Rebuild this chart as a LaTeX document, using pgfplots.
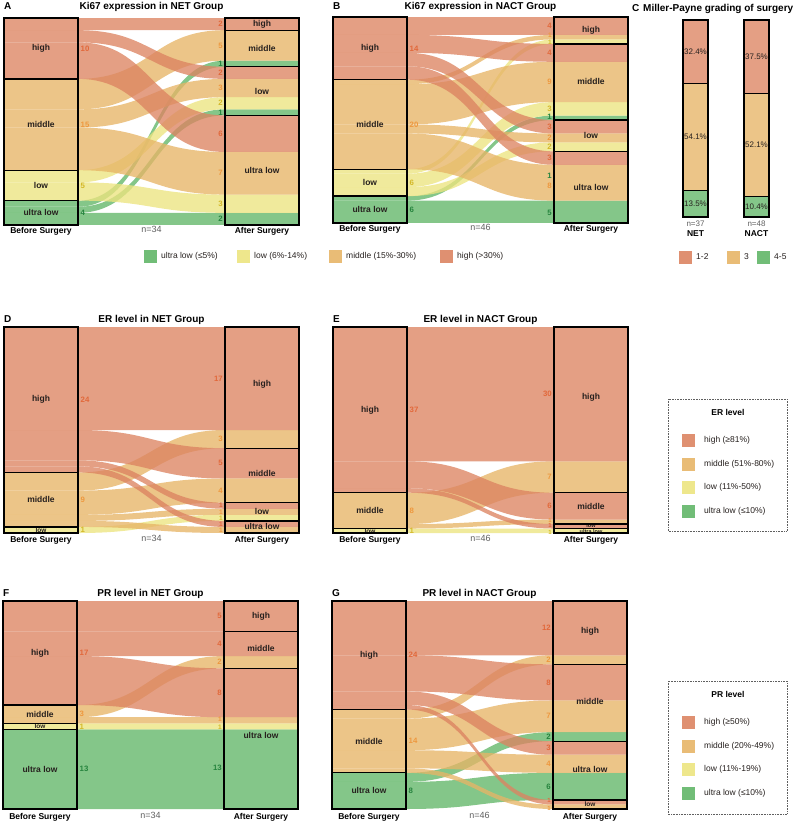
\documentclass[border=0pt]{standalone}
\usepackage{pgfplots}
\pgfplotsset{compat=1.18}
\usepackage{fontspec}
\setmainfont{Liberation Sans}

% stratum colours (high, middle, low, ultra low)
\definecolor{cHi}{RGB}{220,132,98}
\definecolor{cMi}{RGB}{231,181,103}
\definecolor{cLo}{RGB}{236,228,128}
\definecolor{cUl}{RGB}{98,182,104}
% count label colours
\definecolor{tHi}{RGB}{226,104,58}
\definecolor{tMi}{RGB}{238,152,62}
\definecolor{tLo}{RGB}{212,184,40}
\definecolor{tUl}{RGB}{38,132,62}
\definecolor{txt}{RGB}{38,32,30}
\definecolor{gry}{RGB}{95,95,95}

\newcommand{\ttlf}{\fontsize{10}{12}\selectfont\bfseries}
\newcommand{\blf}{\fontsize{8.5}{10}\selectfont\bfseries}
\newcommand{\sblf}{\fontsize{6.5}{7}\selectfont\bfseries}
\newcommand{\tblf}{\fontsize{5.5}{6}\selectfont\bfseries}
\newcommand{\numf}{\fontsize{7.8}{9}\selectfont\bfseries}
\newcommand{\snumf}{\fontsize{6}{7}\selectfont\bfseries}
\newcommand{\mnumf}{\fontsize{6.5}{7}\selectfont\bfseries}
\newcommand{\ftf}{\fontsize{8.5}{10}\selectfont\bfseries}
\newcommand{\nf}{\fontsize{9}{10}\selectfont}
\newcommand{\lgf}{\fontsize{8.5}{10}\selectfont}
\newcommand{\pcf}{\fontsize{8}{9}\selectfont}

% column geometry (axis units)
\newcommand{\xL}{0.2508}
\newcommand{\xR}{0.7492}
\newcommand{\cL}{0.1254}
\newcommand{\cR}{0.8746}

% alluvium: left band [#1,#2], right band [#3,#4], colour #5
\newcommand{\flow}[5]{\fill[#5, fill opacity=0.78] (axis cs:0,#1) -- (axis cs:\xL,#1) .. controls (axis cs:0.5,#1) and (axis cs:0.5,#3) .. (axis cs:\xR,#3) -- (axis cs:1,#3) -- (axis cs:1,#4) -- (axis cs:\xR,#4) .. controls (axis cs:0.5,#4) and (axis cs:0.5,#2) .. (axis cs:\xL,#2) -- (axis cs:0,#2) -- cycle;}
% counts beside the columns
\newcommand{\numL}[3]{\node[anchor=west, text=#3, font=\numf, inner sep=0pt, xshift=2.5pt] at (axis cs:\xL,#1) {#2};}
\newcommand{\numR}[3]{\node[anchor=east, text=#3, font=\numf, inner sep=0pt, xshift=-2pt] at (axis cs:\xR,#1) {#2};}
\newcommand{\mnumR}[3]{\node[anchor=east, text=#3, font=\mnumf, inner sep=0pt, xshift=-2pt] at (axis cs:\xR,#1) {#2};}
\newcommand{\snumR}[3]{\node[anchor=east, text=#3, font=\snumf, inner sep=0pt, xshift=-2pt] at (axis cs:\xR,#1) {#2};}
% stratum names
\newcommand{\blab}[3]{\node[font=\blf, text=txt, inner sep=0pt] at (axis cs:#1,#2) {#3};}
\newcommand{\sblab}[3]{\node[font=\sblf, text=txt, inner sep=0pt] at (axis cs:#1,#2) {#3};}
\newcommand{\tblab}[3]{\node[font=\tblf, text=txt, inner sep=0pt] at (axis cs:#1,#2) {#3};}
% panel letter and title
\newcommand{\ptitle}[3]{%
  \node[anchor=base west, font=\ttlf, inner sep=0pt, yshift=#3] at (axis cs:0,0) {#1};
  \node[anchor=base, font=\ttlf, inner sep=0pt, yshift=#3] at (axis cs:0.5,0) {#2};}
% column captions and sample size
\newcommand{\pfoot}[3]{%
  \node[anchor=base, font=\ftf, inner sep=0pt, yshift=#3] at (axis cs:\cL,#1) {Before Surgery};
  \node[anchor=base, font=\ftf, inner sep=0pt, yshift=#3] at (axis cs:\cR,#1) {After Surgery};
  \node[anchor=base, font=\nf, text=gry, inner sep=0pt, yshift=#3+1pt] at (axis cs:0.5,#1) {#2};}
% legend entry: x, top y, colour, text, text offset
\newcommand{\lsq}[5]{%
  \fill[#3, fill opacity=0.9] (#1pt,-#2pt) rectangle ++(13pt,-13pt);
  \node[anchor=west, font=\lgf, text=txt, inner sep=0pt] at (#1pt+#5pt,-#2pt-6.5pt) {#4};}

\pgfplotsset{
  sankey/.style={anchor=north west, scale only axis, width=295pt, xmin=0, xmax=1,
    ymin=0, y dir=reverse, hide axis, clip=false, ybar stacked, bar width=0.2508},
  strat/.style={draw=black, fill=none, line width=1.3pt},
  pA/.style={sankey, at={(4pt,-18pt)}, height=207pt, ymax=34},
  pB/.style={sankey, at={(333pt,-17pt)}, height=206pt, ymax=46},
  pD/.style={sankey, at={(4pt,-327pt)}, height=206pt, ymax=34},
  pE/.style={sankey, at={(333pt,-327pt)}, height=206pt, ymax=46},
  pF/.style={sankey, at={(3pt,-601pt)}, height=208pt, ymax=34},
  pG/.style={sankey, at={(332pt,-601pt)}, height=208pt, ymax=46},
  pC/.style={at={(665pt,-20pt)}, anchor=north west, scale only axis, width=122pt, height=197pt,
    xmin=-0.5, xmax=1.5, ymin=0, ymax=100, hide axis, clip=false, ybar stacked, bar width=0.41},
}

\begin{document}
\begin{tikzpicture}
\useasboundingbox (0,0) rectangle (800pt,-824pt);

% ---------------- A: Ki67, NET ----------------
\begin{axis}[pA]
\flow{0}{2}{0}{2}{cHi}
\flow{2}{4}{8}{10}{cHi}
\flow{4}{10}{16}{22}{cHi}
\flow{10}{15}{2}{7}{cMi}
\flow{15}{18}{10}{13}{cMi}
\flow{18}{25}{22}{29}{cMi}
\flow{25}{27}{13}{15}{cLo}
\flow{27}{30}{29}{32}{cLo}
\flow{30}{31}{7}{8}{cUl}
\flow{31}{32}{15}{16}{cUl}
\flow{32}{34}{32}{34}{cUl}
\end{axis}
\begin{axis}[pA]
\addplot[strat] coordinates {(\cL,10) (\cR,2)};
\addplot[strat] coordinates {(\cL,15) (\cR,6)};
\addplot[strat] coordinates {(\cL,5) (\cR,8)};
\addplot[strat] coordinates {(\cL,4) (\cR,18)};
\numL{5}{10}{tHi} \numL{17.5}{15}{tMi} \numL{27.5}{5}{tLo} \numL{32}{4}{tUl}
\numR{1}{2}{tHi} \numR{4.5}{5}{tMi} \numR{7.5}{1}{tUl}
\numR{9}{2}{tHi} \numR{11.5}{3}{tMi} \numR{14}{2}{tLo} \numR{15.5}{1}{tUl}
\numR{19}{6}{tHi} \numR{25.5}{7}{tMi} \numR{30.5}{3}{tLo} \numR{33}{2}{tUl}
\blab{\cL}{5}{high} \blab{\cL}{17.5}{middle} \blab{\cL}{27.5}{low} \blab{\cL}{32}{ultra low}
\blab{\cR}{1}{high} \blab{\cR}{5}{middle} \blab{\cR}{12}{low} \blab{\cR}{25}{ultra low}
\ptitle{A}{Ki67 expression in NET Group}{8.5pt}
\pfoot{34}{n=34}{-8.5pt}
\end{axis}

% ---------------- B: Ki67, NACT ----------------
\begin{axis}[pB]
\flow{0}{4}{0}{4}{cHi}
\flow{4}{8}{6}{10}{cHi}
\flow{8}{11}{23}{26}{cHi}
\flow{11}{14}{30}{33}{cHi}
\flow{14}{15}{4}{5}{cMi}
\flow{15}{24}{10}{19}{cMi}
\flow{24}{26}{26}{28}{cMi}
\flow{26}{34}{33}{41}{cMi}
\flow{34}{35}{5}{6}{cLo}
\flow{35}{38}{19}{22}{cLo}
\flow{38}{40}{28}{30}{cLo}
\flow{40}{41}{22}{23}{cUl}
\flow{41}{46}{41}{46}{cUl}
\end{axis}
\begin{axis}[pB]
\addplot[strat] coordinates {(\cL,14) (\cR,6)};
\addplot[strat] coordinates {(\cL,20) (\cR,17)};
\addplot[strat] coordinates {(\cL,6) (\cR,7)};
\addplot[strat] coordinates {(\cL,6) (\cR,16)};
\numL{7}{14}{tHi} \numL{24}{20}{tMi} \numL{37}{6}{tLo} \numL{43}{6}{tUl}
\numR{2}{4}{tHi} \mnumR{4.1}{1}{tMi} \mnumR{5.7}{1}{tLo}
\numR{8}{4}{tHi} \numR{14.5}{9}{tMi} \numR{20.5}{3}{tLo} \numR{22.4}{1}{tUl}
\numR{24.5}{3}{tHi} \numR{27}{2}{tMi} \numR{29}{2}{tLo}
\numR{31.5}{3}{tHi} \numR{35.4}{1}{tUl} \numR{37.7}{8}{tMi} \numR{43.7}{5}{tUl}
\blab{\cL}{7}{high} \blab{\cL}{24}{middle} \blab{\cL}{37}{low} \blab{\cL}{43}{ultra low}
\blab{\cR}{3}{high} \blab{\cR}{14.5}{middle} \blab{\cR}{26.5}{low} \blab{\cR}{38}{ultra low}
\ptitle{B}{Ki67 expression in NACT Group}{7.7pt}
\pfoot{46}{n=46}{-9pt}
\end{axis}

% ---------------- C: Miller-Payne grading ----------------
\node[anchor=base west, font=\ttlf, inner sep=0pt] at (632pt,-11.2pt) {C};
\node[anchor=base west, font=\ttlf, inner sep=0pt] at (643pt,-11.2pt) {Miller-Payne grading of surgery};
\begin{axis}[pC]
\addplot[draw=black, line width=1.2pt, fill=cUl, fill opacity=0.78] coordinates {(0,13.5) (1,10.4)};
\addplot[draw=black, line width=1.2pt, fill=cMi, fill opacity=0.78] coordinates {(0,54.1) (1,52.1)};
\addplot[draw=black, line width=1.2pt, fill=cHi, fill opacity=0.78] coordinates {(0,32.4) (1,37.5)};
\end{axis}
\begin{axis}[pC]
\node[font=\pcf, text=txt] at (axis cs:0,6.75) {13.5\%};
\node[font=\pcf, text=txt] at (axis cs:0,40.85) {54.1\%};
\node[font=\pcf, text=txt] at (axis cs:0,83.8) {32.4\%};
\node[font=\pcf, text=txt] at (axis cs:1,5.2) {10.4\%};
\node[font=\pcf, text=txt] at (axis cs:1,36.45) {52.1\%};
\node[font=\pcf, text=txt] at (axis cs:1,81.25) {37.5\%};
\node[anchor=base, font=\pcf, text=gry, inner sep=0pt, yshift=-9.5pt] at (axis cs:0,0) {n=37};
\node[anchor=base, font=\pcf, text=gry, inner sep=0pt, yshift=-9.5pt] at (axis cs:1,0) {n=48};
\node[anchor=base, font=\ftf, inner sep=0pt, yshift=-19.3pt] at (axis cs:0,0) {NET};
\node[anchor=base, font=\ftf, inner sep=0pt, yshift=-19.3pt] at (axis cs:1,0) {NACT};
\end{axis}
\lsq{679}{250.5}{cHi}{1-2}{17}
\lsq{727}{250.5}{cMi}{3}{17}
\lsq{757}{250.5}{cUl}{4-5}{17}

% Ki67 legend
\lsq{144}{250}{cUl}{ultra low (≤5\%)}{17}
\lsq{237}{250}{cLo}{low (6\%-14\%)}{17}
\lsq{329}{250}{cMi}{middle (15\%-30\%)}{17}
\lsq{440}{250}{cHi}{high (>30\%)}{17}

% ---------------- D: ER, NET ----------------
\begin{axis}[pD]
\flow{0}{17}{0}{17}{cHi}
\flow{17}{22}{20}{25}{cHi}
\flow{22}{23}{29}{30}{cHi}
\flow{23}{24}{32}{33}{cHi}
\flow{24}{27}{17}{20}{cMi}
\flow{27}{31}{25}{29}{cMi}
\flow{31}{32}{30}{31}{cMi}
\flow{32}{33}{33}{34}{cMi}
\flow{33}{34}{31}{32}{cLo}
\end{axis}
\begin{axis}[pD]
\addplot[strat] coordinates {(\cL,24) (\cR,20)};
\addplot[strat] coordinates {(\cL,9) (\cR,9)};
\addplot[strat] coordinates {(\cL,1) (\cR,3)};
\addplot[strat] coordinates {(\cL,0) (\cR,2)};
\numL{12}{24}{tHi} \numL{28.5}{9}{tMi} \numL{33.5}{1}{tLo}
\numR{8.5}{17}{tHi} \numR{18.5}{3}{tMi} \numR{22.5}{5}{tHi} \numR{27}{4}{tMi}
\mnumR{29.5}{1}{tHi} \mnumR{30.5}{1}{tMi} \mnumR{31.5}{1}{tLo} \mnumR{32.5}{1}{tHi} \mnumR{33.5}{1}{tMi}
\blab{\cL}{12}{high} \blab{\cL}{28.5}{middle} \sblab{\cL}{33.5}{low}
\blab{\cR}{9.5}{high} \blab{\cR}{24.2}{middle} \blab{\cR}{30.4}{low} \blab{\cR}{33}{ultra low}
\ptitle{D}{ER level in NET Group}{5pt}
\pfoot{34}{n=34}{-9pt}
\end{axis}

% ---------------- E: ER, NACT ----------------
\begin{axis}[pE]
\flow{0}{30}{0}{30}{cHi}
\flow{30}{36}{37}{43}{cHi}
\flow{36}{37}{44}{45}{cHi}
\flow{37}{44}{30}{37}{cMi}
\flow{44}{45}{43}{44}{cMi}
\flow{45}{46}{45}{46}{cLo}
\end{axis}
\begin{axis}[pE]
\addplot[strat] coordinates {(\cL,37) (\cR,37)};
\addplot[strat] coordinates {(\cL,8) (\cR,7)};
\addplot[strat] coordinates {(\cL,1) (\cR,1)};
\addplot[strat] coordinates {(\cL,0) (\cR,1)};
\numL{18.5}{37}{tHi} \numL{41}{8}{tMi} \numL{45.5}{1}{tLo}
\numR{15}{30}{tHi} \numR{33.5}{7}{tMi} \numR{40}{6}{tHi}
\snumR{43.1}{1}{tMi} \snumR{44.4}{1}{tHi} \snumR{45.9}{1}{tLo}
\blab{\cL}{18.5}{high} \blab{\cL}{41}{middle} \sblab{\cL}{45.5}{low}
\blab{\cR}{15.6}{high} \blab{\cR}{40}{middle} \tblab{\cR}{44.4}{low} \tblab{\cR}{45.7}{ultra low}
\ptitle{E}{ER level in NACT Group}{5pt}
\pfoot{46}{n=46}{-9pt}
\end{axis}

% ER legend
\draw[gry, line width=0.6pt, densely dotted] (668pt,-399pt) rectangle (787pt,-531pt);
\node[font=\ftf, inner sep=0pt] at (728pt,-412.5pt) {ER level};
\lsq{682}{434}{cHi}{high (≥81\%)}{22}
\lsq{682}{457.5}{cMi}{middle (51\%-80\%)}{22}
\lsq{682}{481}{cLo}{low (11\%-50\%)}{22}
\lsq{682}{504.5}{cUl}{ultra low (≤10\%)}{22}

% ---------------- F: PR, NET ----------------
\begin{axis}[pF]
\flow{0}{5}{0}{5}{cHi}
\flow{5}{9}{5}{9}{cHi}
\flow{9}{17}{11}{19}{cHi}
\flow{17}{19}{9}{11}{cMi}
\flow{19}{20}{19}{20}{cMi}
\flow{20}{21}{20}{21}{cLo}
\flow{21}{34}{21}{34}{cUl}
\end{axis}
\begin{axis}[pF]
\addplot[strat] coordinates {(\cL,17) (\cR,5)};
\addplot[strat] coordinates {(\cL,3) (\cR,6)};
\addplot[strat] coordinates {(\cL,1) (\cR,0)};
\addplot[strat] coordinates {(\cL,13) (\cR,23)};
\numL{8.5}{17}{tHi} \numL{18.5}{3}{tMi} \numL{20.5}{1}{tLo} \numL{27.5}{13}{tUl}
\numR{2.5}{5}{tHi} \numR{7}{4}{tHi} \numR{10}{2}{tMi} \numR{15}{8}{tHi}
\mnumR{19.4}{1}{tMi} \mnumR{20.6}{1}{tLo} \numR{27.2}{13}{tUl}
\blab{\cL}{8.5}{high} \blab{\cL}{18.5}{middle} \sblab{\cL}{20.5}{low} \blab{\cL}{27.5}{ultra low}
\blab{\cR}{2.5}{high} \blab{\cR}{7.8}{middle} \blab{\cR}{22}{ultra low}
\ptitle{F}{PR level in NET Group}{4.5pt}
\pfoot{34}{n=34}{-10pt}
\end{axis}

% ---------------- G: PR, NACT ----------------
\begin{axis}[pG]
\flow{0}{12}{0}{12}{cHi}
\flow{12}{20}{14}{22}{cHi}
\flow{20}{23}{31}{34}{cHi}
\flow{23}{24}{44}{45}{cHi}
\flow{24}{26}{12}{14}{cMi}
\flow{26}{33}{22}{29}{cMi}
\flow{33}{37}{34}{38}{cMi}
\flow{37}{38}{45}{46}{cMi}
\flow{38}{40}{29}{31}{cUl}
\flow{40}{46}{38}{44}{cUl}
\end{axis}
\begin{axis}[pG]
\addplot[strat] coordinates {(\cL,24) (\cR,14)};
\addplot[strat] coordinates {(\cL,14) (\cR,17)};
\addplot[strat] coordinates {(\cL,8) (\cR,13)};
\addplot[strat] coordinates {(\cL,0) (\cR,2)};
\numL{12}{24}{tHi} \numL{31}{14}{tMi} \numL{42}{8}{tUl}
\numR{6}{12}{tHi} \numR{13}{2}{tMi} \numR{18}{8}{tHi} \numR{25.5}{7}{tMi}
\numR{30}{2}{tUl} \numR{32.5}{3}{tHi} \numR{36}{4}{tMi} \numR{41}{6}{tUl}
\snumR{44.1}{1}{tHi} \snumR{45.8}{1}{tMi}
\blab{\cL}{12}{high} \blab{\cL}{31}{middle} \blab{\cL}{42}{ultra low}
\blab{\cR}{6.6}{high} \blab{\cR}{22.2}{middle} \blab{\cR}{37.3}{ultra low} \sblab{\cR}{45}{low}
\ptitle{G}{PR level in NACT Group}{4.5pt}
\pfoot{46}{n=46}{-10pt}
\end{axis}

% PR legend
\draw[gry, line width=0.6pt, densely dotted] (668pt,-681pt) rectangle (787pt,-814pt);
\node[font=\ftf, inner sep=0pt] at (728pt,-694pt) {PR level};
\lsq{682}{716}{cHi}{high (≥50\%)}{22}
\lsq{682}{739.5}{cMi}{middle (20\%-49\%)}{22}
\lsq{682}{763}{cLo}{low (11\%-19\%)}{22}
\lsq{682}{787}{cUl}{ultra low (≤10\%)}{22}

\end{tikzpicture}
\end{document}
